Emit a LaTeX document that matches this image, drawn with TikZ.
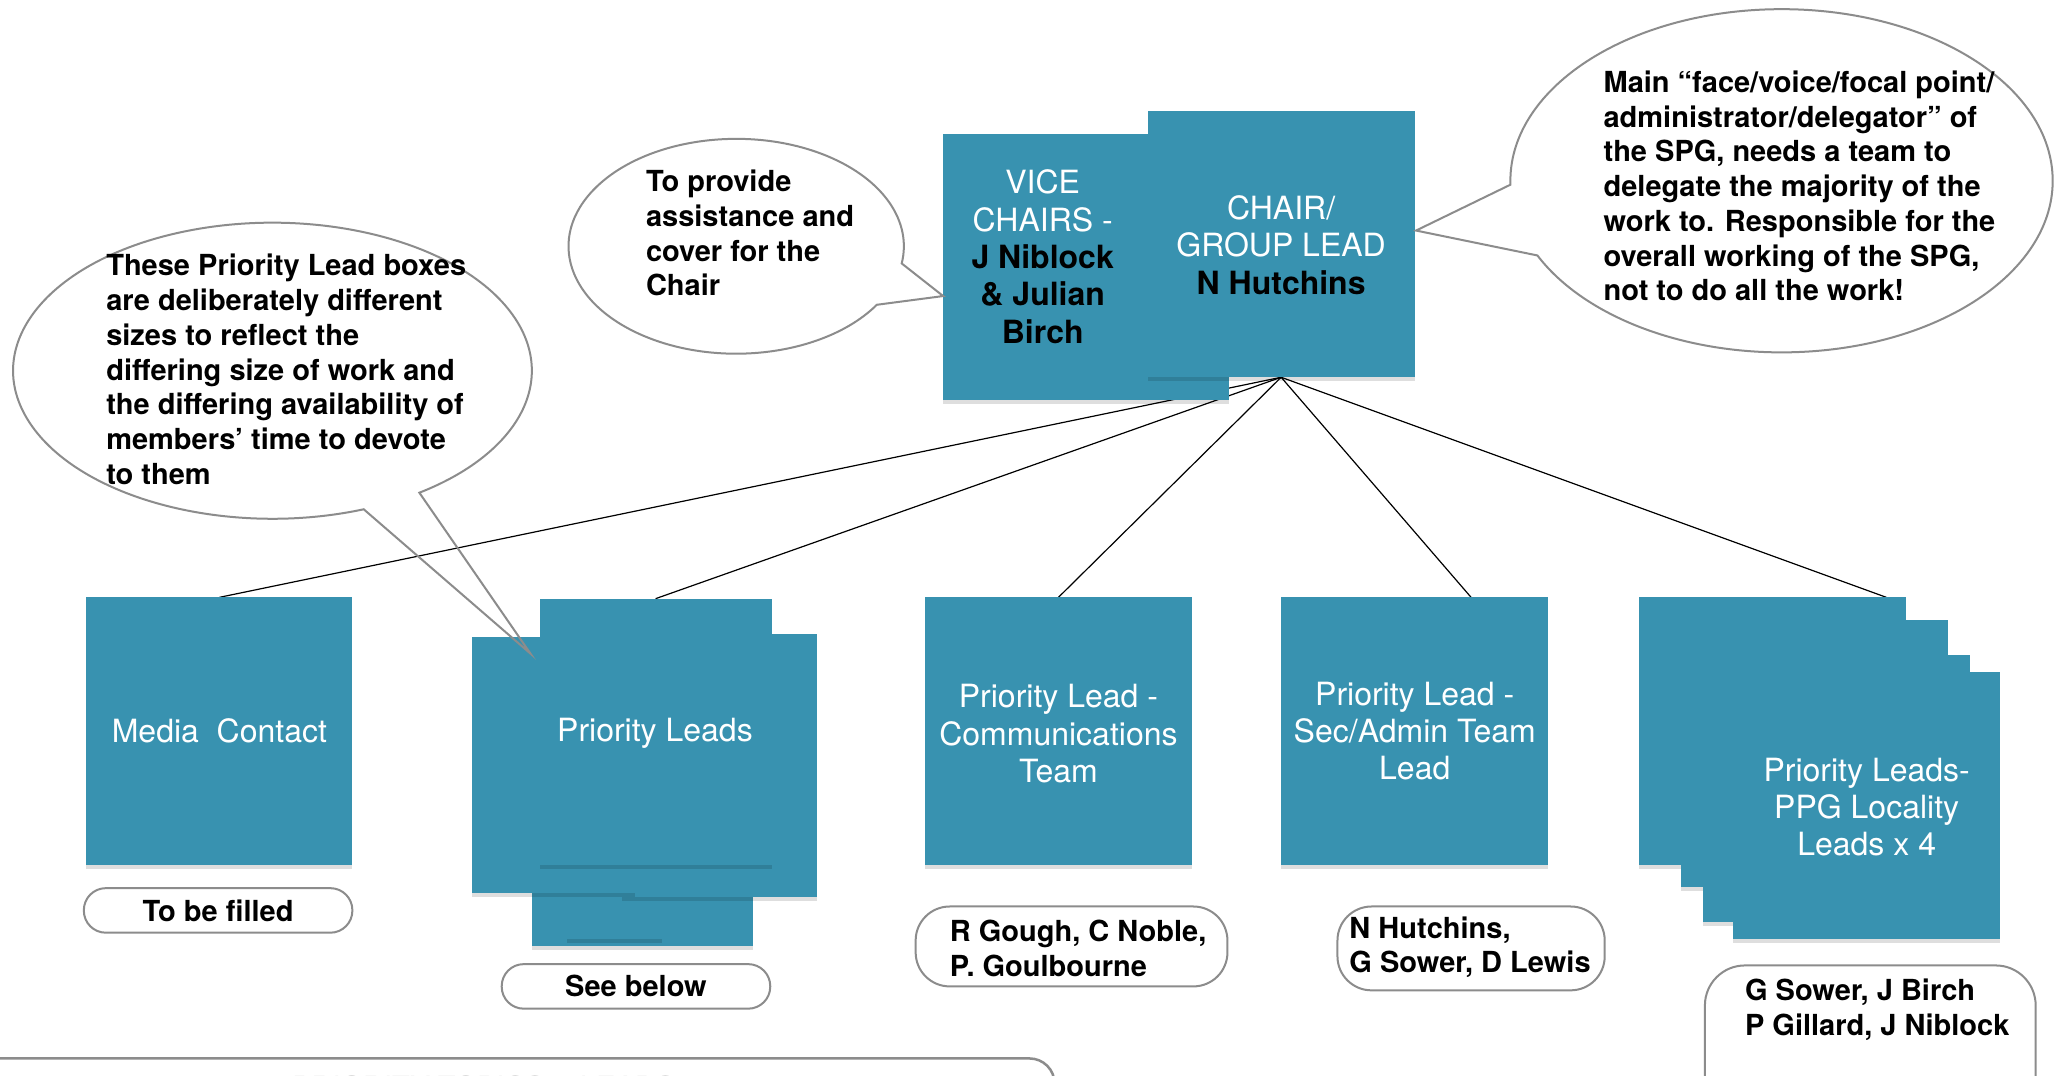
\documentclass[tikz,border=0pt]{standalone}
\usepackage{fontspec}
\setmainfont{TeX Gyre Heros}
\usetikzlibrary{fit,calc,shadows,backgrounds}
\definecolor{boxblue}{RGB}{56,146,176}
\definecolor{lineg}{RGB}{140,140,140}
\definecolor{faintg}{RGB}{200,200,200}
\tikzset{
  box/.style={fill=boxblue, draw=none, inner sep=0pt, outer sep=0pt,
    drop shadow={shadow xshift=0pt, shadow yshift=-4pt, opacity=0.13, fill=black}},
  wtxt/.style={text=white, font=\fontsize{32}{37.3}\selectfont, align=center, inner sep=0pt},
  btxt/.style={text=black, font=\bfseries\fontsize{29}{34.7}\selectfont, align=left, inner sep=0pt},
  pill/.style={draw=lineg, line width=2pt, fill=white, inner sep=0pt},
  callout/.style={draw=lineg, line width=2pt, line join=miter},
  conn/.style={draw=black, line width=1.2pt},
}
\begin{document}
\begin{tikzpicture}[x=1.31pt, y=-1.31pt]
\useasboundingbox (0,0) rectangle (1568,821);
\clip (0,0) rectangle (1568,821);

% top boxes
\node[box, fit={(720,102) (938,305)}] (vice) {};
\node[box, fit={(876,85) (1080,288)}] (chair) {};
\node[wtxt] (vicetxt) at (796,196) {VICE\\CHAIRS -\\{\color{black}\bfseries J Niblock}\\{\color{black}\bfseries \& Julian}\\{\color{black}\bfseries Birch}};
\node[wtxt] (chairtxt) at (978,187) {CHAIR/\\GROUP LEAD\\{\color{black}\bfseries N Hutchins}};

% bottom row
\node[box, fit={(66,456) (269,660)}] (media) {};
\node[wtxt] (mediatxt) at (167.5,558) {Media\ \ Contact};

\node[box, fit={(406,600) (575,722)}] (plbig) {};
\node[box, fit={(433,650) (505,717)}] (plsmall) {};
\node[box, fit={(475,484) (624,685)}] (plright) {};
\node[box, fit={(360,486) (485,682)}] (plleft) {};
\node[box, fit={(412,457) (589,660)}] (plfront) {};
\node[wtxt] (pltxt) at (500,560) {Priority Leads};

\node[box, fit={(706,456) (910,660)}] (comm) {};
\node[wtxt] (commtxt) at (808,560) {Priority Lead -\\Communications\\Team};

\node[box, fit={(978,456) (1182,660)}] (sec) {};
\node[wtxt] (sectxt) at (1080,558) {Priority Lead -\\Sec/Admin Team\\Lead};

\node[box, fit={(1251,456) (1455,660)}] (ppga) {};
\node[box, fit={(1283,473) (1487,677)}] (ppgb) {};
\node[box, fit={(1300,500) (1504,704)}] (ppgc) {};
\node[box, fit={(1323,513) (1527,717)}] (ppgd) {};
\node[wtxt] (ppgtxt) at (1425,616) {Priority Leads-\\PPG Locality\\Leads x 4};

% connectors (behind boxes)
\begin{scope}[on background layer]
\fill[white] (0,0) rectangle (1568,821);
\draw[conn] (chair.south) -- (media.north);
\draw[conn] (chair.south) -- (plfront.north);
\draw[conn] (chair.south) -- (comm.north);
\draw[conn] (chair.south) -- ($(sec.north)+(43,0)$);
\draw[conn] (chair.south) -- ($(ppga.north)+(87,0)$);
\end{scope}

% pills
\node[pill, rounded corners=22pt, fit={(64,678) (269,712)}] (pillmedia) {};
\node[btxt] (pillmediatxt) at (pillmedia.center) {To be filled};
\node[pill, rounded corners=22pt, fit={(383,736) (588,770)}] (pillpl) {};
\node[btxt] (pillpltxt) at (pillpl.center) {See below};
\node[pill, rounded corners=34pt, fit={(699,692) (937,753)}] (pillcomm) {};
\node[btxt, anchor=west] (pillcommtxt) at (725,724) {R Gough, C Noble,\\P. Goulbourne};
\node[pill, rounded corners=34pt, fit={(1021,692) (1225,756)}] (pillsec) {};
\node[btxt, anchor=west] (pillsectxt) at (1030,723) {N Hutchins,\\G Sower, D Lewis};
\node[pill, rounded corners=40pt, fit={(1301.5,737) (1554,870)}] (pillppg) {};
\node[btxt, anchor=west] (pillppgtxt) at (1332,771) {G Sower, J Birch\\P Gillard, J Niblock};

% bottom partial box
\node[draw=lineg, line width=2.5pt, rounded corners=25pt, fill=white, inner sep=0pt, fit={(-30,808) (805,920)}] (topics) {};
\node[anchor=base west, text=faintg, font=\fontsize{29}{34}\selectfont, inner sep=0pt] (topicstxt) at (223,838) {PRIORITY TOPICS \& LEADS};

% callouts
\fill[white] (208,283) ellipse [x radius=198, y radius=113];
\draw[callout] ($(208,283)+(69.4:198 and 113)$) arc[start angle=69.4, end angle=415.5, x radius=198, y radius=113] -- (405,499) -- cycle;
\node[btxt, anchor=west] (leftnote) at (81,282) {These Priority Lead boxes\\are deliberately different\\sizes to reflect the\\differing size of work and\\the differing availability of\\members’ time to devote\\to them};

\fill[white] (562,188) ellipse [x radius=128, y radius=82];
\draw[callout] ($(562,188)+(33:128 and 82)$) arc[start angle=33, end angle=369.2, x radius=128, y radius=82] -- (720,226) -- cycle;
\node[btxt, anchor=west] (midnote) at (493,178) {To provide\\assistance and\\cover for the\\Chair};

\fill[white] (1360,138) ellipse [x radius=207, y radius=131];
\draw[callout] ($(1360,138)+(178.7:207 and 131)$) arc[start angle=178.7, end angle=514.2, x radius=207, y radius=131] -- (1081,176) -- cycle;
\node[btxt, anchor=west] (rightnote) at (1224,142) {Main “face/voice/focal point/\\administrator/delegator” of\\the SPG, needs a team to\\delegate the majority of the\\work to. Responsible for the\\overall working of the SPG,\\not to do all the work!};
\end{tikzpicture}
\end{document}
